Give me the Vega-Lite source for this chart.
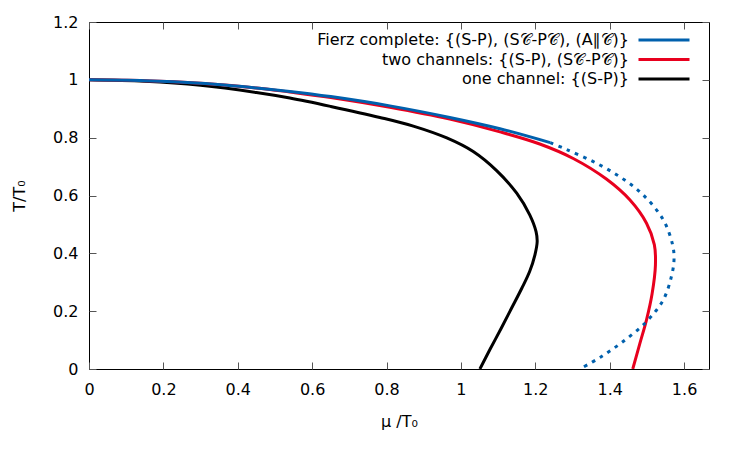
{
  "$schema": "https://vega.github.io/schema/vega-lite/v6.json",
  "autosize": {"type": "none"},
  "padding": {"left": 89, "top": 22, "right": 41, "bottom": 81},
  "width": 620,
  "height": 347,
  "background": "white",
  "config": {
    "font": "DejaVu Sans",
    "view": {"stroke": "black", "strokeWidth": 1},
    "axis": {
      "labelFont": "DejaVu Sans",
      "labelFontSize": 16,
      "labelColor": "black",
      "labelFlush": false,
      "titleFont": "DejaVu Sans",
      "titleFontSize": 16,
      "titleFontWeight": "normal",
      "titleColor": "black",
      "domain": false,
      "grid": false,
      "tickColor": "#555",
      "tickWidth": 1,
      "tickSize": -7
    },
    "legend": {
      "labelFont": "DejaVu Sans",
      "labelFontSize": 16,
      "labelColor": "black"
    }
  },
  "data": {
    "values": [
      {"curve": "one channel: {(S-P)}", "part": "stable", "i": 0, "mu": 0.0, "T": 1.0},
      {"curve": "one channel: {(S-P)}", "part": "stable", "i": 1, "mu": 0.15, "T": 0.995},
      {"curve": "one channel: {(S-P)}", "part": "stable", "i": 2, "mu": 0.3, "T": 0.981},
      {"curve": "one channel: {(S-P)}", "part": "stable", "i": 3, "mu": 0.45, "T": 0.956},
      {"curve": "one channel: {(S-P)}", "part": "stable", "i": 4, "mu": 0.54, "T": 0.937},
      {"curve": "one channel: {(S-P)}", "part": "stable", "i": 5, "mu": 0.65, "T": 0.908},
      {"curve": "one channel: {(S-P)}", "part": "stable", "i": 6, "mu": 0.782, "T": 0.87},
      {"curve": "one channel: {(S-P)}", "part": "stable", "i": 7, "mu": 0.872, "T": 0.84},
      {"curve": "one channel: {(S-P)}", "part": "stable", "i": 8, "mu": 0.962, "T": 0.799},
      {"curve": "one channel: {(S-P)}", "part": "stable", "i": 9, "mu": 1.033, "T": 0.752},
      {"curve": "one channel: {(S-P)}", "part": "stable", "i": 10, "mu": 1.096, "T": 0.686},
      {"curve": "one channel: {(S-P)}", "part": "stable", "i": 11, "mu": 1.15, "T": 0.608},
      {"curve": "one channel: {(S-P)}", "part": "stable", "i": 12, "mu": 1.185, "T": 0.533},
      {"curve": "one channel: {(S-P)}", "part": "stable", "i": 13, "mu": 1.202, "T": 0.475},
      {"curve": "one channel: {(S-P)}", "part": "stable", "i": 14, "mu": 1.205, "T": 0.44},
      {"curve": "one channel: {(S-P)}", "part": "stable", "i": 15, "mu": 1.199, "T": 0.395},
      {"curve": "one channel: {(S-P)}", "part": "stable", "i": 16, "mu": 1.185, "T": 0.338},
      {"curve": "one channel: {(S-P)}", "part": "stable", "i": 17, "mu": 1.164, "T": 0.28},
      {"curve": "one channel: {(S-P)}", "part": "stable", "i": 18, "mu": 1.136, "T": 0.21},
      {"curve": "one channel: {(S-P)}", "part": "stable", "i": 19, "mu": 1.108, "T": 0.14},
      {"curve": "one channel: {(S-P)}", "part": "stable", "i": 20, "mu": 1.079, "T": 0.07},
      {"curve": "one channel: {(S-P)}", "part": "stable", "i": 21, "mu": 1.051, "T": 0.0},

      {"curve": "two channels: {(S-P), (S𝒞-P𝒞)}", "part": "stable", "i": 0, "mu": 0.0, "T": 1.0},
      {"curve": "two channels: {(S-P), (S𝒞-P𝒞)}", "part": "stable", "i": 1, "mu": 0.15, "T": 0.997},
      {"curve": "two channels: {(S-P), (S𝒞-P𝒞)}", "part": "stable", "i": 2, "mu": 0.3, "T": 0.988},
      {"curve": "two channels: {(S-P), (S𝒞-P𝒞)}", "part": "stable", "i": 3, "mu": 0.45, "T": 0.972},
      {"curve": "two channels: {(S-P), (S𝒞-P𝒞)}", "part": "stable", "i": 4, "mu": 0.54, "T": 0.958},
      {"curve": "two channels: {(S-P), (S𝒞-P𝒞)}", "part": "stable", "i": 5, "mu": 0.65, "T": 0.939},
      {"curve": "two channels: {(S-P), (S𝒞-P𝒞)}", "part": "stable", "i": 6, "mu": 0.809, "T": 0.905},
      {"curve": "two channels: {(S-P), (S𝒞-P𝒞)}", "part": "stable", "i": 7, "mu": 0.97, "T": 0.864},
      {"curve": "two channels: {(S-P), (S𝒞-P𝒞)}", "part": "stable", "i": 8, "mu": 1.105, "T": 0.82},
      {"curve": "two channels: {(S-P), (S𝒞-P𝒞)}", "part": "stable", "i": 9, "mu": 1.212, "T": 0.778},
      {"curve": "two channels: {(S-P), (S𝒞-P𝒞)}", "part": "stable", "i": 10, "mu": 1.302, "T": 0.728},
      {"curve": "two channels: {(S-P), (S𝒞-P𝒞)}", "part": "stable", "i": 11, "mu": 1.392, "T": 0.656},
      {"curve": "two channels: {(S-P), (S𝒞-P𝒞)}", "part": "stable", "i": 12, "mu": 1.454, "T": 0.585},
      {"curve": "two channels: {(S-P), (S𝒞-P𝒞)}", "part": "stable", "i": 13, "mu": 1.499, "T": 0.504},
      {"curve": "two channels: {(S-P), (S𝒞-P𝒞)}", "part": "stable", "i": 14, "mu": 1.52, "T": 0.43},
      {"curve": "two channels: {(S-P), (S𝒞-P𝒞)}", "part": "stable", "i": 15, "mu": 1.523, "T": 0.36},
      {"curve": "two channels: {(S-P), (S𝒞-P𝒞)}", "part": "stable", "i": 16, "mu": 1.514, "T": 0.26},
      {"curve": "two channels: {(S-P), (S𝒞-P𝒞)}", "part": "stable", "i": 17, "mu": 1.499, "T": 0.17},
      {"curve": "two channels: {(S-P), (S𝒞-P𝒞)}", "part": "stable", "i": 18, "mu": 1.481, "T": 0.088},
      {"curve": "two channels: {(S-P), (S𝒞-P𝒞)}", "part": "stable", "i": 19, "mu": 1.462, "T": 0.0},

      {"curve": "Fierz complete: {(S-P), (S𝒞-P𝒞), (A∥𝒞)}", "part": "stable", "i": 0, "mu": 0.0, "T": 1.0},
      {"curve": "Fierz complete: {(S-P), (S𝒞-P𝒞), (A∥𝒞)}", "part": "stable", "i": 1, "mu": 0.15, "T": 0.997},
      {"curve": "Fierz complete: {(S-P), (S𝒞-P𝒞), (A∥𝒞)}", "part": "stable", "i": 2, "mu": 0.3, "T": 0.988},
      {"curve": "Fierz complete: {(S-P), (S𝒞-P𝒞), (A∥𝒞)}", "part": "stable", "i": 3, "mu": 0.45, "T": 0.972},
      {"curve": "Fierz complete: {(S-P), (S𝒞-P𝒞), (A∥𝒞)}", "part": "stable", "i": 4, "mu": 0.54, "T": 0.96},
      {"curve": "Fierz complete: {(S-P), (S𝒞-P𝒞), (A∥𝒞)}", "part": "stable", "i": 5, "mu": 0.65, "T": 0.942},
      {"curve": "Fierz complete: {(S-P), (S𝒞-P𝒞), (A∥𝒞)}", "part": "stable", "i": 6, "mu": 0.809, "T": 0.91},
      {"curve": "Fierz complete: {(S-P), (S𝒞-P𝒞), (A∥𝒞)}", "part": "stable", "i": 7, "mu": 0.97, "T": 0.87},
      {"curve": "Fierz complete: {(S-P), (S𝒞-P𝒞), (A∥𝒞)}", "part": "stable", "i": 8, "mu": 1.105, "T": 0.831},
      {"curve": "Fierz complete: {(S-P), (S𝒞-P𝒞), (A∥𝒞)}", "part": "stable", "i": 9, "mu": 1.24, "T": 0.783},

      {"curve": "Fierz complete: {(S-P), (S𝒞-P𝒞), (A∥𝒞)}", "part": "unstable", "i": 0, "mu": 1.24, "T": 0.783},
      {"curve": "Fierz complete: {(S-P), (S𝒞-P𝒞), (A∥𝒞)}", "part": "unstable", "i": 1, "mu": 1.284, "T": 0.759},
      {"curve": "Fierz complete: {(S-P), (S𝒞-P𝒞), (A∥𝒞)}", "part": "unstable", "i": 2, "mu": 1.356, "T": 0.717},
      {"curve": "Fierz complete: {(S-P), (S𝒞-P𝒞), (A∥𝒞)}", "part": "unstable", "i": 3, "mu": 1.427, "T": 0.665},
      {"curve": "Fierz complete: {(S-P), (S𝒞-P𝒞), (A∥𝒞)}", "part": "unstable", "i": 4, "mu": 1.49, "T": 0.602},
      {"curve": "Fierz complete: {(S-P), (S𝒞-P𝒞), (A∥𝒞)}", "part": "unstable", "i": 5, "mu": 1.544, "T": 0.516},
      {"curve": "Fierz complete: {(S-P), (S𝒞-P𝒞), (A∥𝒞)}", "part": "unstable", "i": 6, "mu": 1.569, "T": 0.43},
      {"curve": "Fierz complete: {(S-P), (S𝒞-P𝒞), (A∥𝒞)}", "part": "unstable", "i": 7, "mu": 1.573, "T": 0.38},
      {"curve": "Fierz complete: {(S-P), (S𝒞-P𝒞), (A∥𝒞)}", "part": "unstable", "i": 8, "mu": 1.566, "T": 0.32},
      {"curve": "Fierz complete: {(S-P), (S𝒞-P𝒞), (A∥𝒞)}", "part": "unstable", "i": 9, "mu": 1.544, "T": 0.239},
      {"curve": "Fierz complete: {(S-P), (S𝒞-P𝒞), (A∥𝒞)}", "part": "unstable", "i": 10, "mu": 1.499, "T": 0.164},
      {"curve": "Fierz complete: {(S-P), (S𝒞-P𝒞), (A∥𝒞)}", "part": "unstable", "i": 11, "mu": 1.436, "T": 0.095},
      {"curve": "Fierz complete: {(S-P), (S𝒞-P𝒞), (A∥𝒞)}", "part": "unstable", "i": 12, "mu": 1.374, "T": 0.04},
      {"curve": "Fierz complete: {(S-P), (S𝒞-P𝒞), (A∥𝒞)}", "part": "unstable", "i": 13, "mu": 1.32, "T": 0.0}
    ]
  },
  "layer": [
    {
      "transform": [{"filter": "datum.part === 'stable'"}],
      "mark": {"type": "line", "strokeWidth": 3, "strokeCap": "butt", "interpolate": "catmull-rom", "clip": true},
      "encoding": {
        "x": {
          "field": "mu", "type": "quantitative",
          "scale": {"domain": [0, 1.667], "nice": false, "zero": false},
          "axis": {
            "orient": "bottom",
            "values": [0, 0.2, 0.4, 0.6, 0.8, 1, 1.2, 1.4, 1.6],
            "format": "~g",
            "title": "μ /T₀",
            "labelPadding": 19,
            "titlePadding": 16
          }
        },
        "y": {
          "field": "T", "type": "quantitative",
          "scale": {"domain": [0, 1.2], "nice": false},
          "axis": {
            "orient": "left",
            "values": [0, 0.2, 0.4, 0.6, 0.8, 1, 1.2],
            "format": "~g",
            "title": "T/T₀",
            "labelPadding": 18,
            "titlePadding": 25
          }
        },
        "color": {
          "field": "curve", "type": "nominal",
          "scale": {
            "domain": [
              "Fierz complete: {(S-P), (S𝒞-P𝒞), (A∥𝒞)}",
              "two channels: {(S-P), (S𝒞-P𝒞)}",
              "one channel: {(S-P)}"
            ],
            "range": ["#0060ad", "#e8001e", "#000000"]
          },
          "legend": {
            "title": null,
            "orient": "none",
            "legendX": 567,
            "legendY": 10,
            "padding": 0,
            "symbolType": "M-5.1,0H5.1",
            "symbolSize": 100,
            "symbolStrokeWidth": 3,
            "labelAlign": "right",
            "labelOffset": -43,
            "labelLimit": 0,
            "rowPadding": 3.5
          }
        },
        "order": {"field": "i", "type": "quantitative"}
      }
    },
    {
      "transform": [{"filter": "datum.part === 'unstable'"}],
      "mark": {"type": "line", "color": "#0060ad", "strokeWidth": 3, "strokeCap": "butt", "strokeDash": [3.5, 5.5], "interpolate": "catmull-rom", "clip": true},
      "encoding": {
        "x": {
          "field": "mu", "type": "quantitative",
          "axis": {
            "orient": "top",
            "values": [0, 0.2, 0.4, 0.6, 0.8, 1, 1.2, 1.4, 1.6],
            "labels": false,
            "title": null
          }
        },
        "y": {
          "field": "T", "type": "quantitative",
          "axis": {
            "orient": "right",
            "values": [0, 0.2, 0.4, 0.6, 0.8, 1, 1.2],
            "labels": false,
            "title": null
          }
        },
        "order": {"field": "i", "type": "quantitative"}
      }
    }
  ],
  "resolve": {"axis": {"x": "independent", "y": "independent"}}
}
